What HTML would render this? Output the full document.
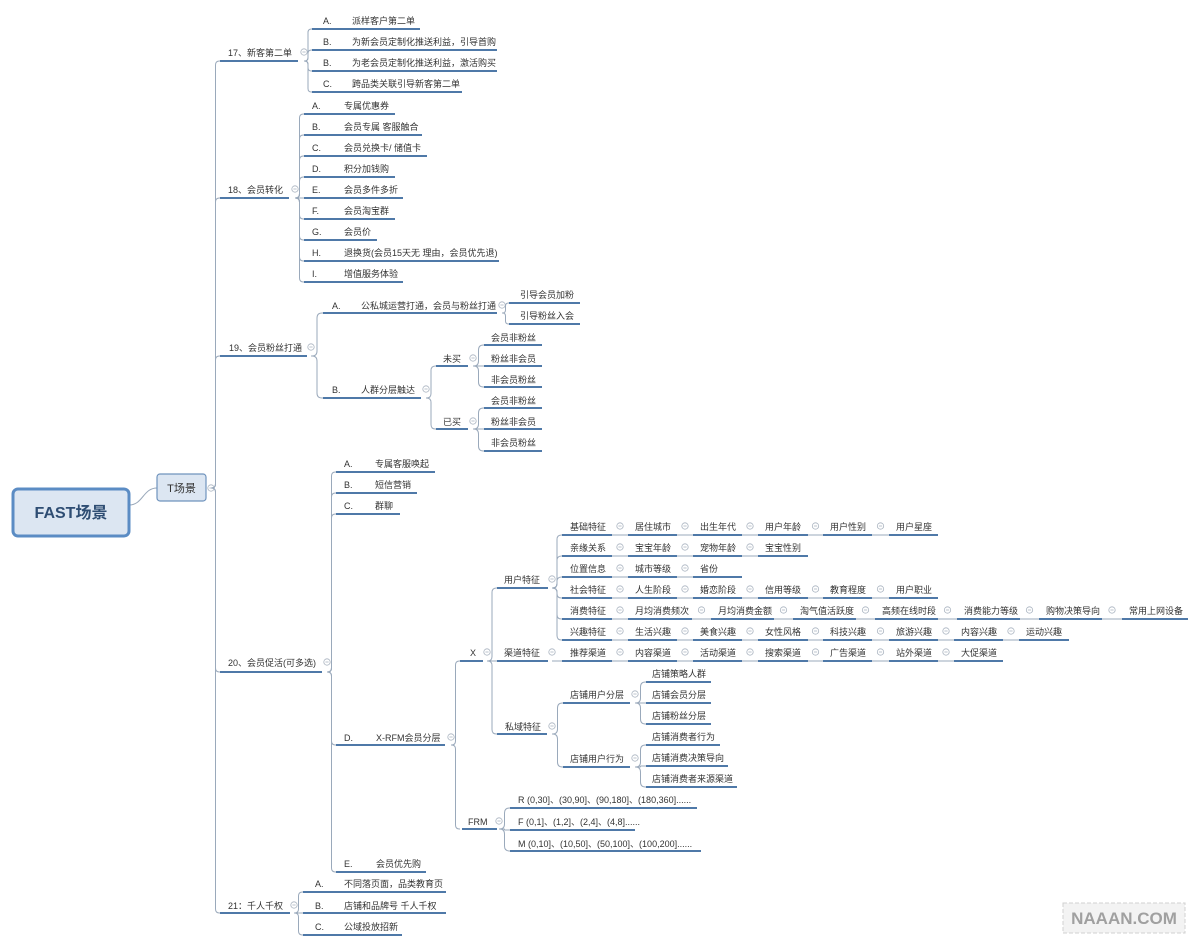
<!DOCTYPE html>
<html><head><meta charset="utf-8">
<style>
html,body{margin:0;padding:0;background:#fff;}
svg{display:block;}
text{font-family:"Liberation Sans","Noto Sans CJK SC",sans-serif;font-size:9px;fill:#333;}
</style></head>
<body>
<svg id="s" width="1200" height="946" viewBox="0 0 1200 946" xmlns="http://www.w3.org/2000/svg">
<g id="lines"></g>
<path d="M129,505 C143,505 143,488 157,488" stroke="#9aa9bb" fill="none" stroke-width="1"/>
<rect x="13" y="489" width="116" height="47" rx="5" fill="#dce6f2" stroke="#5b8cc4" stroke-width="3"/>
<text x="71" y="518" text-anchor="middle" style="font-size:16px;font-weight:bold;fill:#2e4d73">FAST场景</text>
<rect x="157" y="474" width="49" height="27" rx="3" fill="#dce6f2" stroke="#6f93bd" stroke-width="1.2"/>
<text x="181.5" y="492" text-anchor="middle" style="font-size:11px;fill:#333">T场景</text>
<g id="txt">
<text x="228" y="56">17、新客第二单</text>
<text x="228" y="193">18、会员转化</text>
<text x="229" y="351">19、会员粉丝打通</text>
<text x="228" y="666">20、会员促活(可多选)</text>
<text x="228" y="909">21：千人千权</text>

<text x="323" y="24">A.</text><text x="352" y="24">派样客户第二单</text>
<text x="323" y="45">B.</text><text x="352" y="45">为新会员定制化推送利益，引导首购</text>
<text x="323" y="66">B.</text><text x="352" y="66">为老会员定制化推送利益，激活购买</text>
<text x="323" y="87">C.</text><text x="352" y="87">跨品类关联引导新客第二单</text>

<text x="312" y="109">A.</text><text x="344" y="109">专属优惠券</text>
<text x="312" y="130">B.</text><text x="344" y="130">会员专属 客服触合</text>
<text x="312" y="151">C.</text><text x="344" y="151">会员兑换卡/ 储值卡</text>
<text x="312" y="172">D.</text><text x="344" y="172">积分加钱购</text>
<text x="312" y="193">E.</text><text x="344" y="193">会员多件多折</text>
<text x="312" y="214">F.</text><text x="344" y="214">会员淘宝群</text>
<text x="312" y="235">G.</text><text x="344" y="235">会员价</text>
<text x="312" y="256">H.</text><text x="344" y="256">退换货(会员15天无 理由，会员优先退)</text>
<text x="312" y="277">I.</text><text x="344" y="277">增值服务体验</text>

<text x="332" y="309">A.</text><text x="361" y="309">公私城运营打通，会员与粉丝打通</text>
<text x="520" y="298">引导会员加粉</text>
<text x="520" y="319">引导粉丝入会</text>
<text x="332" y="393">B.</text><text x="361" y="393">人群分层触达</text>
<text x="443" y="362">未买</text>
<text x="443" y="425">已买</text>
<text x="491" y="341">会员非粉丝</text>
<text x="491" y="362">粉丝非会员</text>
<text x="491" y="383">非会员粉丝</text>
<text x="491" y="404">会员非粉丝</text>
<text x="491" y="425">粉丝非会员</text>
<text x="491" y="446">非会员粉丝</text>

<text x="344" y="467">A.</text><text x="375" y="467">专属客服唤起</text>
<text x="344" y="488">B.</text><text x="375" y="488">短信营销</text>
<text x="344" y="509">C.</text><text x="375" y="509">群聊</text>
<text x="344" y="741">D.</text><text x="376" y="741">X-RFM会员分层</text>
<text x="344" y="867">E.</text><text x="376" y="867">会员优先购</text>

<text x="470" y="656">X</text>
<text x="468" y="825">FRM</text>
<text x="504" y="583">用户特征</text>
<text x="504" y="656">渠道特征</text>
<text x="505" y="730">私域特征</text>

<text x="570" y="530">基础特征</text><text x="635" y="530">居住城市</text><text x="700" y="530">出生年代</text><text x="765" y="530">用户年龄</text><text x="830" y="530">用户性别</text><text x="896" y="530">用户星座</text>
<text x="570" y="551">亲缘关系</text><text x="635" y="551">宝宝年龄</text><text x="700" y="551">宠物年龄</text><text x="765" y="551">宝宝性别</text>
<text x="570" y="572">位置信息</text><text x="635" y="572">城市等级</text><text x="700" y="572">省份</text>
<text x="570" y="593">社会特征</text><text x="635" y="593">人生阶段</text><text x="700" y="593">婚恋阶段</text><text x="765" y="593">信用等级</text><text x="830" y="593">教育程度</text><text x="896" y="593">用户职业</text>
<text x="570" y="614">消费特征</text><text x="635" y="614">月均消费频次</text><text x="718" y="614">月均消费金额</text><text x="800" y="614">淘气值活跃度</text><text x="882" y="614">高频在线时段</text><text x="964" y="614">消费能力等级</text><text x="1046" y="614">购物决策导向</text><text x="1129" y="614">常用上网设备</text>
<text x="570" y="635">兴趣特征</text><text x="635" y="635">生活兴趣</text><text x="700" y="635">美食兴趣</text><text x="765" y="635">女性风格</text><text x="830" y="635">科技兴趣</text><text x="896" y="635">旅游兴趣</text><text x="961" y="635">内容兴趣</text><text x="1026" y="635">运动兴趣</text>
<text x="570" y="656">推荐渠道</text><text x="635" y="656">内容渠道</text><text x="700" y="656">活动渠道</text><text x="765" y="656">搜索渠道</text><text x="830" y="656">广告渠道</text><text x="896" y="656">站外渠道</text><text x="961" y="656">大促渠道</text>

<text x="570" y="698">店铺用户分层</text>
<text x="570" y="762">店铺用户行为</text>
<text x="652" y="677">店铺策略人群</text>
<text x="652" y="698">店铺会员分层</text>
<text x="652" y="719">店铺粉丝分层</text>
<text x="652" y="740">店铺消费者行为</text>
<text x="652" y="761">店铺消费决策导向</text>
<text x="652" y="782">店铺消费者来源渠道</text>

<text x="518" y="803">R  (0,30]、(30,90]、(90,180]、(180,360]......</text>
<text x="518" y="825">F  (0,1]、(1,2]、(2,4]、(4,8]......</text>
<text x="518" y="847">M  (0,10]、(10,50]、(50,100]、(100,200]......</text>

<text x="315" y="887">A.</text><text x="344" y="887">不同落页面，品类教育页</text>
<text x="315" y="909">B.</text><text x="344" y="909">店铺和品牌号   千人千权</text>
<text x="315" y="930">C.</text><text x="344" y="930">公域投放招新</text>
</g>
<rect x="1063" y="903" width="122" height="30" fill="#f3f3f3" stroke="#d0d0d0" stroke-width="1" stroke-dasharray="4,2"/>
<text x="1124" y="924" text-anchor="middle" style="font-size:17px;font-weight:bold;fill:#a0a0a0">NAAAN.COM</text>
</svg>
<script>
(function(){
var g=document.getElementById('lines'),NS='http://www.w3.org/2000/svg';
function el(n,a){var e=document.createElementNS(NS,n);for(var k in a)e.setAttribute(k,a[k]);g.appendChild(e);return e;}
function U(x1,x2,y){el('line',{x1:x1,y1:y,x2:x2,y2:y,stroke:'#4f79a8','stroke-width':2});}
function L(x1,x2,y){el('line',{x1:x1,y1:y,x2:x2,y2:y,stroke:'#9aa9bb','stroke-width':1});}
function C(x,y){el('circle',{cx:x,cy:y,r:3.2,fill:'#fff',stroke:'#aab4c0','stroke-width':0.8});el('line',{x1:x-1.6,y1:y,x2:x+1.6,y2:y,stroke:'#aab4c0','stroke-width':0.8});}
function P(x0,y0,x1,ys){
  var xm=(x0+x1)/2;
  ys.forEach(function(y1){
    var dy=y1-y0;
    if(Math.abs(dy)<1){L(x0,x1,y1);return;}
    var s=dy>0?1:-1;var r=Math.min(5,(x1-x0)/2-0.5,Math.abs(dy)/2);
    var d='M'+x0+','+y0+' L'+(xm-r)+','+y0+' Q'+xm+','+y0+' '+xm+','+(y0+s*r)+' L'+xm+','+(y1-s*r)+' Q'+xm+','+y1+' '+(xm+r)+','+y1+' L'+x1+','+y1;
    el('path',{d:d,fill:'none',stroke:'#9aa9bb','stroke-width':1});
  });
}
C(211,488);
P(211,488,220,[61,198,356,672,913]);
U(220,298,61);C(304,52);
U(220,289,198);C(295,189);
U(220,307,356);C(311,347);
U(220,322,672);C(327,662);
U(220,290,913);C(294,905);
P(304,61,312,[29,50,71,92]);
[[420,29],[497,50],[497,71],[462,92]].forEach(function(a){U(312,a[0],a[1]);});
var e18=[395,422,427,395,403,395,377,499,403],y18=[114,135,156,177,198,219,240,261,282];
P(295,198,304,y18);
y18.forEach(function(y,i){U(304,e18[i],y);});
P(311,356,323,[313,398]);
U(323,497,313);C(502,305);
P(502,313,509,[303,324]);U(509,580,303);U(509,580,324);
U(323,421,398);C(426,389);
P(426,398,436,[366,429]);
U(436,468,366);C(473,358);U(436,468,429);C(473,421);
P(473,366,484,[345,366,387]);P(473,429,484,[408,429,451]);
[345,366,387,408,429,451].forEach(function(y){U(484,542,y);});
P(327,672,336,[472,493,514,745,872]);
U(336,435,472);U(336,417,493);U(336,400,514);U(336,445,745);U(336,426,872);
C(451,737);
P(451,745,460,[661,829]);
U(460,483,661);C(487,652);
U(462,497,829);C(499,821);
P(487,661,497,[588,661,734]);
U(497,548,588);C(552,579);U(497,548,661);C(552,652);U(497,547,734);C(552,726);
P(552,588,562,[535,556,577,598,619,640]);
L(552,562,661);
var std=[[562,612],[628,677],[693,742],[758,808],[823,872],[889,938],[954,1003],[1019,1069]];
function row(y,n,cols){
  cols=cols||std;
  for(var i=0;i<n;i++){
    U(cols[i][0],cols[i][1],y);
    if(i<n-1){L(cols[i][1],cols[i+1][0],y);C((cols[i][1]+cols[i+1][0])/2,y-9);}
  }
}
row(535,6);row(556,4);row(577,3);row(598,6);
row(619,8,[[562,612],[628,692],[711,774],[793,856],[875,938],[957,1020],[1039,1102],[1122,1188]]);
row(640,8);row(661,7);
P(552,734,563,[703,767]);
U(563,630,703);C(635,694);U(563,630,767);C(635,758);
P(635,703,646,[682,703,724]);[682,703,724].forEach(function(y){U(646,711,y);});
P(635,767,646,[745,766,787]);U(646,720,745);U(646,728,766);U(646,737,787);
P(499,829,510,[808,830,851]);U(510,697,808);U(510,635,830);U(510,701,851);
P(294,913,303,[892,913,935]);U(303,446,892);U(303,446,913);U(303,402,935);
})();
</script>
</body></html>
